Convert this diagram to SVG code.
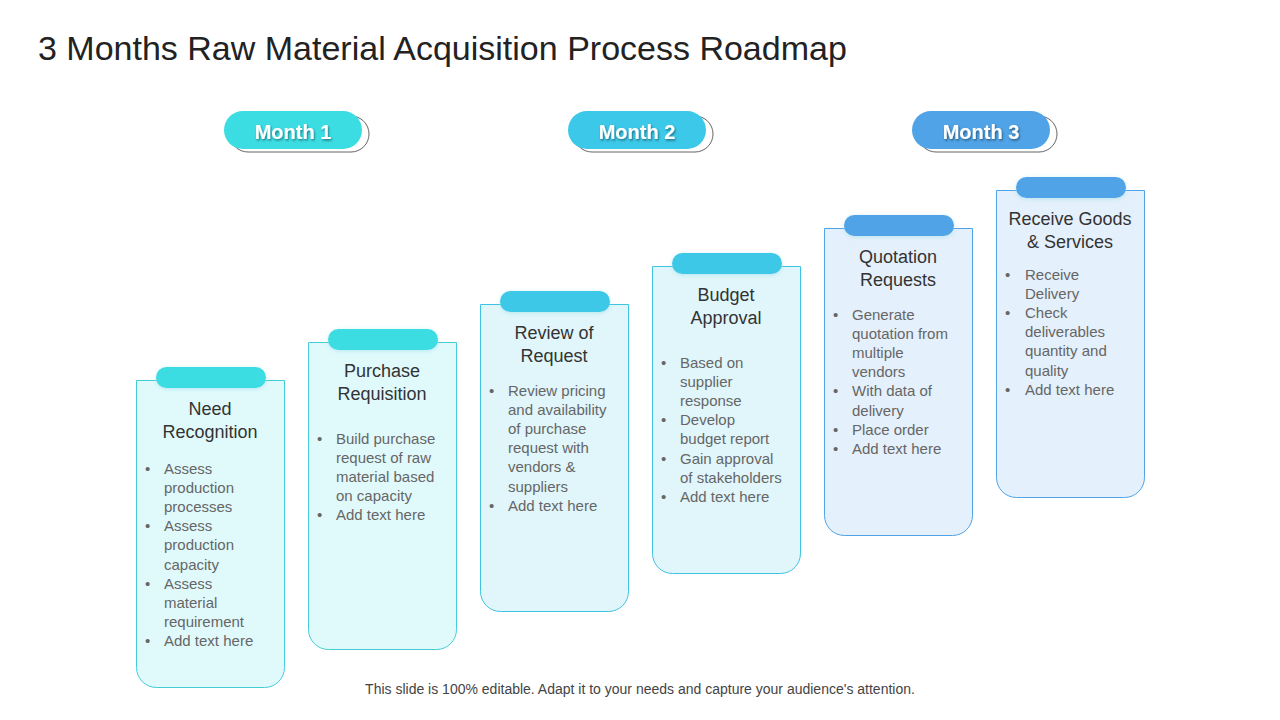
<svg xmlns="http://www.w3.org/2000/svg" width="1280" height="720" viewBox="0 0 1280 720">
<defs>
<style>
text{font-family:"Liberation Sans",Arial,sans-serif}
.ttl{font-size:34px;fill:#222}
.h{font-size:18px;fill:#333;text-anchor:middle}
.b{font-size:15px;fill:#666}
.m{font-size:20px;font-weight:bold;fill:#fff;text-anchor:middle}
.ol{fill:none;stroke:#666;stroke-width:1}
.c1{fill:#e0fafc;stroke:#44cdd8}
.c2{fill:#e0f6fb;stroke:#3cc4e2}
.c3{fill:#e4f0fb;stroke:#4fa3e6}
.t1{fill:#3bdde3}.t2{fill:#3cc8e8}.t3{fill:#4fa3e6}
.foot{font-size:14px;fill:#444;text-anchor:middle}
</style>
<filter id="sh" x="-20%" y="-20%" width="140%" height="160%"><feDropShadow dx="1" dy="1.5" stdDeviation="1" flood-color="#000" flood-opacity="0.45"/></filter>
<filter id="ts" x="-20%" y="-50%" width="140%" height="200%"><feDropShadow dx="0" dy="1" stdDeviation="2" flood-color="#9adbe8" flood-opacity="0.6"/></filter>
</defs>
<rect width="1280" height="720" fill="#fff"/>
<text class="ttl" x="38" y="60">3 Months Raw Material Acquisition Process Roadmap</text>

<g id="month1">
<rect x="230" y="116" width="139" height="36" rx="18" class="ol"/>
<rect x="224" y="111" width="138" height="38" rx="19" class="t1"/>
<text class="m" x="293" y="139" filter="url(#sh)">Month 1</text>
</g>
<g id="month2">
<rect x="574" y="116" width="139" height="36" rx="18" class="ol"/>
<rect x="568" y="111" width="138" height="38" rx="19" class="t2"/>
<text class="m" x="637" y="139" filter="url(#sh)">Month 2</text>
</g>
<g id="month3">
<rect x="918" y="116" width="139" height="36" rx="18" class="ol"/>
<rect x="912" y="111" width="138" height="38" rx="19" class="t3"/>
<text class="m" x="981" y="139" filter="url(#sh)">Month 3</text>
</g>

<g id="card1">
<path class="c1" d="M136.5,380.5 h148 v287 a20,20 0 0 1 -20,20 h-108 a20,20 0 0 1 -20,-20 z"/>
<rect x="156" y="367" width="110" height="21" rx="10.5" class="t1" filter="url(#ts)"/>
<text class="h" x="210" y="415">Need</text><text class="h" x="210" y="438">Recognition</text>
<text class="b"><tspan x="145" y="474">•</tspan><tspan x="164" y="474">Assess</tspan><tspan x="164" y="493">production</tspan><tspan x="164" y="512">processes</tspan><tspan x="145" y="531">•</tspan><tspan x="164" y="531">Assess</tspan><tspan x="164" y="550">production</tspan><tspan x="164" y="570">capacity</tspan><tspan x="145" y="589">•</tspan><tspan x="164" y="589">Assess</tspan><tspan x="164" y="608">material</tspan><tspan x="164" y="627">requirement</tspan><tspan x="145" y="646">•</tspan><tspan x="164" y="646">Add text here</tspan></text>
</g>
<g id="card2">
<path class="c1" d="M308.5,342.5 h148 v287 a20,20 0 0 1 -20,20 h-108 a20,20 0 0 1 -20,-20 z"/>
<rect x="328" y="329" width="110" height="21" rx="10.5" class="t1" filter="url(#ts)"/>
<text class="h" x="382" y="377">Purchase</text><text class="h" x="382" y="400">Requisition</text>
<text class="b"><tspan x="317" y="444">•</tspan><tspan x="336" y="444">Build purchase</tspan><tspan x="336" y="463">request of raw</tspan><tspan x="336" y="482">material based</tspan><tspan x="336" y="501">on capacity</tspan><tspan x="317" y="520">•</tspan><tspan x="336" y="520">Add text here</tspan></text>
</g>
<g id="card3">
<path class="c2" d="M480.5,304.5 h148 v287 a20,20 0 0 1 -20,20 h-108 a20,20 0 0 1 -20,-20 z"/>
<rect x="500" y="291" width="110" height="21" rx="10.5" class="t2" filter="url(#ts)"/>
<text class="h" x="554" y="339">Review of</text><text class="h" x="554" y="362">Request</text>
<text class="b"><tspan x="489" y="396">•</tspan><tspan x="508" y="396">Review pricing</tspan><tspan x="508" y="415">and availability</tspan><tspan x="508" y="434">of purchase</tspan><tspan x="508" y="453">request with</tspan><tspan x="508" y="472">vendors &amp;</tspan><tspan x="508" y="492">suppliers</tspan><tspan x="489" y="511">•</tspan><tspan x="508" y="511">Add text here</tspan></text>
</g>
<g id="card4">
<path class="c2" d="M652.5,266.5 h148 v287 a20,20 0 0 1 -20,20 h-108 a20,20 0 0 1 -20,-20 z"/>
<rect x="672" y="253" width="110" height="21" rx="10.5" class="t2" filter="url(#ts)"/>
<text class="h" x="726" y="301">Budget</text><text class="h" x="726" y="324">Approval</text>
<text class="b"><tspan x="661" y="368">•</tspan><tspan x="680" y="368">Based on</tspan><tspan x="680" y="387">supplier</tspan><tspan x="680" y="406">response</tspan><tspan x="661" y="425">•</tspan><tspan x="680" y="425">Develop</tspan><tspan x="680" y="444">budget report</tspan><tspan x="661" y="464">•</tspan><tspan x="680" y="464">Gain approval</tspan><tspan x="680" y="483">of stakeholders</tspan><tspan x="661" y="502">•</tspan><tspan x="680" y="502">Add text here</tspan></text>
</g>
<g id="card5">
<path class="c3" d="M824.5,228.5 h148 v287 a20,20 0 0 1 -20,20 h-108 a20,20 0 0 1 -20,-20 z"/>
<rect x="844" y="215" width="110" height="21" rx="10.5" class="t3" filter="url(#ts)"/>
<text class="h" x="898" y="263">Quotation</text><text class="h" x="898" y="286">Requests</text>
<text class="b"><tspan x="833" y="320">•</tspan><tspan x="852" y="320">Generate</tspan><tspan x="852" y="339">quotation from</tspan><tspan x="852" y="358">multiple</tspan><tspan x="852" y="377">vendors</tspan><tspan x="833" y="396">•</tspan><tspan x="852" y="396">With data of</tspan><tspan x="852" y="416">delivery</tspan><tspan x="833" y="435">•</tspan><tspan x="852" y="435">Place order</tspan><tspan x="833" y="454">•</tspan><tspan x="852" y="454">Add text here</tspan></text>
</g>
<g id="card6">
<path class="c3" d="M996.5,190.5 h148 v287 a20,20 0 0 1 -20,20 h-108 a20,20 0 0 1 -20,-20 z"/>
<rect x="1016" y="177" width="110" height="21" rx="10.5" class="t3" filter="url(#ts)"/>
<text class="h" x="1070" y="225">Receive Goods</text><text class="h" x="1070" y="248">&amp; Services</text>
<text class="b"><tspan x="1005" y="280">•</tspan><tspan x="1025" y="280">Receive</tspan><tspan x="1025" y="299">Delivery</tspan><tspan x="1005" y="318">•</tspan><tspan x="1025" y="318">Check</tspan><tspan x="1025" y="337">deliverables</tspan><tspan x="1025" y="356">quantity and</tspan><tspan x="1025" y="376">quality</tspan><tspan x="1005" y="395">•</tspan><tspan x="1025" y="395">Add text here</tspan></text>
</g>
<g id="connectors"/>
<text class="foot" x="640" y="694">This slide is 100% editable. Adapt it to your needs and capture your audience's attention.</text>
</svg>
